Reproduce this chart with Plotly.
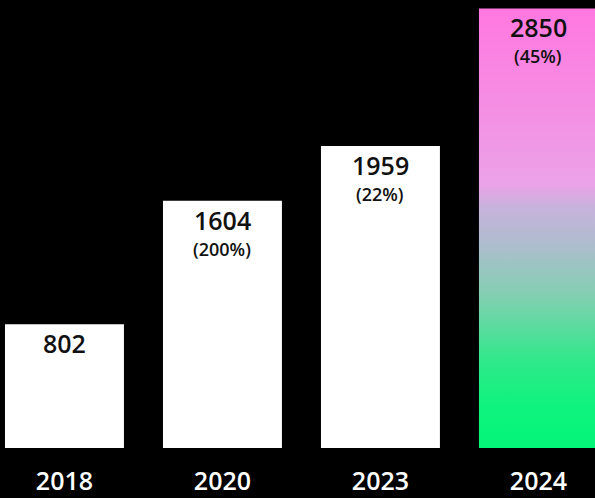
import plotly.graph_objects as go

years = ["2018", "2020", "2023", "2024"]
values = [802, 1604, 1959, 2850]
pct_labels = ["", "(200%)", "(22%)", "(45%)"]

FONT = "Open Sans"
BAR_W = 0.753
xs = list(range(len(years)))

fig = go.Figure()

# white bars (last one transparent, overlaid by gradient fill)
bar_colors = ["#ffffff"] * (len(years) - 1) + ["rgba(0,0,0,0)"]
fig.add_trace(go.Bar(
    x=xs, y=values, width=BAR_W,
    marker=dict(color=bar_colors, line=dict(width=0)),
    hoverinfo="skip", showlegend=False,
))

# gradient bar for the last year
i = len(years) - 1
x0, x1 = xs[i] - BAR_W / 2, xs[i] + BAR_W / 2
fig.add_trace(go.Scatter(
    x=[x0, x1, x1, x0, x0],
    y=[0, 0, values[i], values[i], 0],
    mode="lines", line=dict(width=0),
    fill="toself",
    fillgradient=dict(
        type="vertical",
        start=0, stop=values[i],
        colorscale=[
            [0.0, "#03F578"],
            [0.10, "#10F37E"],
            [0.20, "#30E88A"],
            [0.34, "#80D0B0"],
            [0.47, "#B0BCCF"],
            [0.55, "#C8B2DC"],
            [0.60, "#EBA2E8"],
            [0.80, "#F68CE3"],
            [1.0, "#FF78E0"],
        ],
    ),
    hoverinfo="skip", showlegend=False,
))

annotations = []
for x, v, p in zip(xs, values, pct_labels):
    annotations.append(dict(
        x=x, y=v, xref="x", yref="y", text=str(v), showarrow=False,
        yanchor="middle", yshift=-19,
        font=dict(family=FONT, size=25, color="#111111", weight=600),
    ))
    if p:
        annotations.append(dict(
            x=x, y=v, xref="x", yref="y", text=p, showarrow=False,
            yanchor="middle", yshift=-48,
            font=dict(family=FONT, size=18, color="#111111", weight=600),
        ))

fig.update_layout(
    width=595, height=498,
    margin=dict(l=0, r=0, t=0, b=50),
    paper_bgcolor="#000000", plot_bgcolor="#000000",
    showlegend=False,
    annotations=annotations,
    xaxis=dict(
        range=[-0.408, 3.358],
        tickvals=xs, ticktext=years,
        showgrid=False, zeroline=False, showline=False, ticks="",
        tickfont=dict(family=FONT, size=25, color="#ffffff", weight=600),
        ticklabelstandoff=16,
        automargin=False,
        fixedrange=True,
    ),
    yaxis=dict(
        range=[0, 2905],
        visible=False, showgrid=False, zeroline=False,
        fixedrange=True,
    ),
)

fig.write_html(
    "out.html",
    config={"displayModeBar": False},
    post_script="document.body.style.margin='0';document.body.style.background='#000';",
)
